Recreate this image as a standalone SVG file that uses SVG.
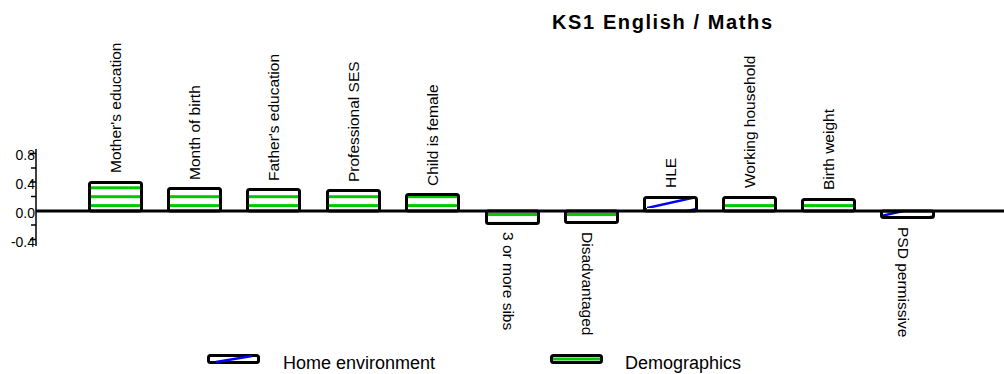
<svg xmlns="http://www.w3.org/2000/svg" width="1004" height="374" viewBox="0 0 1004 374">
  <style>
    .lbl { font-family: "Liberation Sans", Arial, sans-serif; font-size: 15.5px; fill: #000; }
    .tick { font-family: "Liberation Sans", Arial, sans-serif; font-size: 14px; fill: #000; text-anchor: end; }
    .leg { font-family: "Liberation Sans", Arial, sans-serif; font-size: 18px; fill: #000; }
    .title { font-family: "Liberation Sans", Arial, sans-serif; font-size: 20px; font-weight: bold; fill: #000; }
    .bar { stroke: #000; stroke-width: 3; }
    .demo { fill: url(#stripes); }
    .home { fill: url(#hatch); }
    .axis { stroke: #000; stroke-width: 1.5; fill: none; }
  </style>
  <defs>
    <!-- horizontal green stripes for demographic factors -->
    <pattern id="stripes" patternUnits="userSpaceOnUse" x="0" y="186.3" width="20" height="8.9">
      <rect x="0" y="0" width="20" height="8.9" fill="#fff"/>
      <rect x="0" y="0" width="20" height="3" fill="#00c800"/>
    </pattern>
    <!-- single blue diagonal for home-environment factors -->
    <pattern id="hatch" patternUnits="userSpaceOnUse" x="647" y="196" width="54" height="12">
      <rect x="0" y="0" width="54" height="12" fill="#fff"/>
      <line x1="0" y1="12" x2="54" y2="0" stroke="#0000ff" stroke-width="2.5"/>
    </pattern>
  </defs>

  <rect width="1004" height="374" fill="#fff"/>

  <text class="title" x="552" y="29" textLength="220" lengthAdjust="spacing">KS1 English / Maths</text>

  <!-- value axis -->
  <g id="axis">
    <line class="axis" x1="36" y1="149" x2="36" y2="246"/>
    <line class="axis" x1="30" y1="153.5" x2="36" y2="153.5"/>
    <line class="axis" x1="31" y1="168" x2="36" y2="168"/>
    <line class="axis" x1="30" y1="182" x2="36" y2="182"/>
    <line class="axis" x1="31" y1="196.5" x2="36" y2="196.5"/>
    <line class="axis" x1="31" y1="225" x2="36" y2="225"/>
    <line class="axis" x1="30" y1="239.5" x2="36" y2="239.5"/>
    <text class="tick" x="35" y="160">0.8</text>
    <text class="tick" x="35" y="189">0.4</text>
    <text class="tick" x="35" y="218">0.0</text>
    <text class="tick" x="35" y="247">-0.4</text>
  </g>

  <!-- bars -->
  <g id="bar-mothers-education">
    <rect class="bar demo" x="89.5" y="182.5" width="52" height="28.5" rx="2"/>
    <text class="lbl" transform="translate(121,173) rotate(-90)">Mother's education</text>
  </g>
  <g id="bar-month-of-birth">
    <rect class="bar demo" x="168.5" y="188.5" width="52" height="22.5" rx="2"/>
    <text class="lbl" transform="translate(200,180) rotate(-90)">Month of birth</text>
  </g>
  <g id="bar-fathers-education">
    <rect class="bar demo" x="247.5" y="189.5" width="52" height="21.5" rx="2"/>
    <text class="lbl" transform="translate(279,181) rotate(-90)">Father's education</text>
  </g>
  <g id="bar-professional-ses">
    <rect class="bar demo" x="327.5" y="190.5" width="52" height="20.5" rx="2"/>
    <text class="lbl" transform="translate(359,182) rotate(-90)">Professional SES</text>
  </g>
  <g id="bar-child-is-female">
    <rect class="bar demo" x="406.5" y="194.5" width="52" height="16.5" rx="2"/>
    <text class="lbl" transform="translate(438,186) rotate(-90)">Child is female</text>
  </g>
  <g id="bar-3-or-more-sibs">
    <rect class="bar demo" x="486.5" y="211" width="52" height="12.5" rx="2"/>
    <text class="lbl" transform="translate(503,232) rotate(90)">3 or more sibs</text>
  </g>
  <g id="bar-disadvantaged">
    <rect class="bar demo" x="565.5" y="211" width="52" height="11.5" rx="2"/>
    <text class="lbl" transform="translate(582,232) rotate(90)">Disadvantaged</text>
  </g>
  <g id="bar-hle">
    <rect class="bar home" x="644.5" y="197.5" width="52" height="13.5" rx="2"/>
    <text class="lbl" transform="translate(676,188) rotate(-90)">HLE</text>
  </g>
  <g id="bar-working-household">
    <rect class="bar demo" x="723.5" y="197.5" width="52" height="13.5" rx="2"/>
    <text class="lbl" transform="translate(755,188) rotate(-90)">Working household</text>
  </g>
  <g id="bar-birth-weight">
    <rect class="bar demo" x="802.5" y="199.5" width="52" height="11.5" rx="2"/>
    <text class="lbl" transform="translate(834,190) rotate(-90)">Birth weight</text>
  </g>
  <g id="bar-psd-permissive">
    <rect class="bar home" x="881.5" y="211" width="52" height="6.5" rx="2"/>
    <text class="lbl" transform="translate(898,227) rotate(90)">PSD permissive</text>
  </g>

  <!-- zero baseline -->
  <line x1="36" y1="211" x2="1004" y2="211" stroke="#000" stroke-width="3"/>

  <!-- legend -->
  <g id="legend-home">
    <rect x="208.5" y="355.5" width="50" height="7" rx="2" fill="#fff" stroke="#000" stroke-width="3"/>
    <line x1="216" y1="362" x2="252" y2="356" stroke="#0000ff" stroke-width="2.5"/>
    <text class="leg" x="283" y="369">Home environment</text>
  </g>
  <g id="legend-demographics">
    <rect x="551.5" y="355.5" width="50" height="7" rx="2" fill="#fff" stroke="#000" stroke-width="3"/>
    <rect x="553" y="357.5" width="47" height="3" fill="#00c800"/>
    <text class="leg" x="625" y="369">Demographics</text>
  </g>
</svg>
